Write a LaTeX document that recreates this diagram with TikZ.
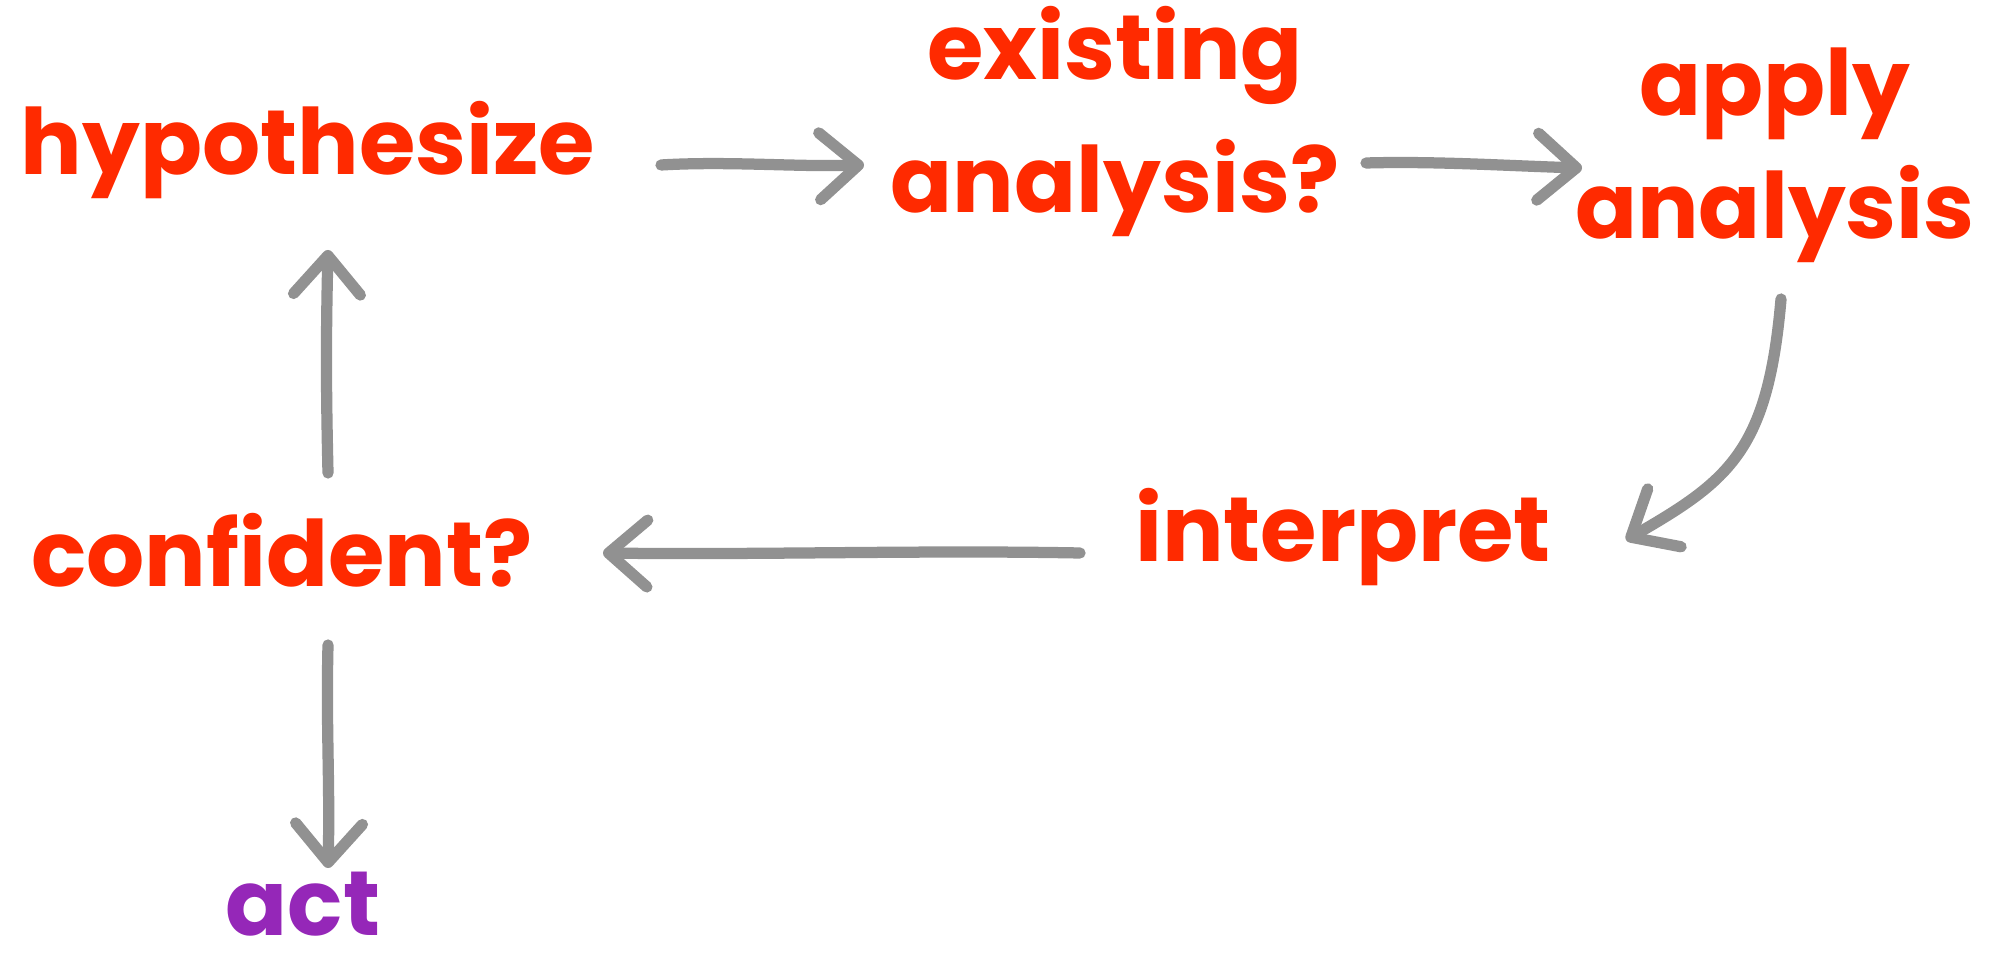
\documentclass[tikz,border=0pt]{standalone}
\usepackage{fontspec}
\setmainfont{Poppins}
\usetikzlibrary{arrows.meta,calc}
\definecolor{ink}{HTML}{FF2A00}
\definecolor{pen}{HTML}{919191}
\definecolor{actink}{HTML}{9527B8}
\tikzset{
  word/.style={text=ink, font=\fontsize{26}{38}\selectfont\bfseries,
    inner sep=0pt, anchor=base, align=center},
  conn/.style={draw=pen, line width=3.2pt, line cap=round, line join=round,
    -{Straight Barb[length=11pt,width=19pt,line cap=round,line join=round]}},
}
\begin{document}
\begin{tikzpicture}[x=0.01cm,y=-0.01cm]
\useasboundingbox (0,0) rectangle (1992,968);

% labels (positioned by their last baseline)
\node[word] (hyp)    at (308,175)  {hypothesize};
\node[word] (exist)  at (1115,213) {existing\\analysis?};
\node[word] (apply)  at (1775,239) {apply\\[-3pt]analysis};
\node[word] (interp) at (1343,562) {interpret};
\node[word] (conf)   at (282,587)  {confident?};
\node[word, text=actink] (act) at (303,935) {act};

% connectors
\draw[conn] ($(hyp.base)+(353,-10)$)
  .. controls ($(hyp.base)+(420,-14)$) and ($(exist.base)+(-320,-46)$) .. ($(exist.base)+(-251,-48)$);
\draw[conn] ($(exist.base)+(251,-50)$)
  .. controls ($(exist.base)+(320,-52)$) and ($(apply.base)+(-263,-73)$) .. ($(apply.base)+(-193,-71)$);
\draw[conn] ($(apply.base)+(6,60)$)
  .. controls ($(apply.base)+(-7,211)$) and ($(interp.base)+(387,-82)$) .. ($(interp.base)+(283,-22)$);
\draw[conn] ($(interp.base)+(-263,-9)$)
  .. controls ($(interp.base)+(-420,-12)$) and ($(conf.base)+(480,-32)$) .. ($(conf.base)+(321,-34)$);
\draw[conn] ($(conf.base)+(46,-114)$)
  .. controls ($(conf.base)+(44,-200)$) and ($(hyp.base)+(18,160)$) .. ($(hyp.base)+(20,75)$);
\draw[conn] ($(conf.base)+(46,58)$)
  .. controls ($(conf.base)+(44,140)$) and ($(act.base)+(27,-153)$) .. ($(act.base)+(25,-67)$);
\end{tikzpicture}
\end{document}
